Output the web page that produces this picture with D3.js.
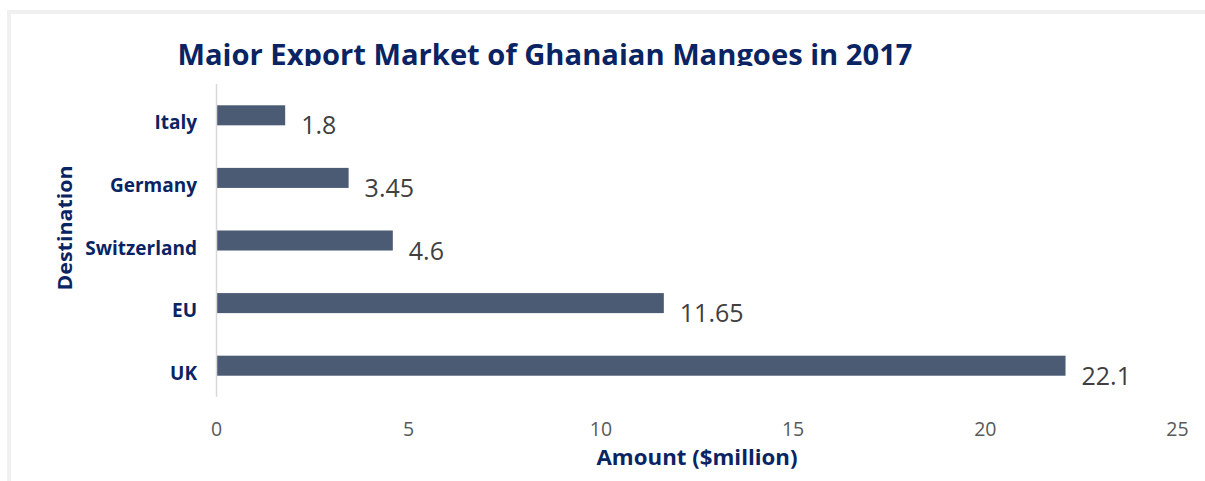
<!DOCTYPE html>
<html><head><meta charset="utf-8">
<script src="https://cdn.jsdelivr.net/npm/d3@7"></script>
<style>html,body{margin:0;padding:0;background:#fff;}svg{display:block;}</style>
</head><body>
<script>
const categories = ["Italy", "Germany", "Switzerland", "EU", "UK"];
const values = [1.8, 3.45, 4.6, 11.65, 22.1];
const valueLabels = ["1.8", "3.45", "4.6", "11.65", "22.1"];
const xTicks = [0, 5, 10, 15, 20, 25];
const titleText = "Major Export Market of Ghanaian Mangoes in 2017";
const xTitle = "Amount ($million)";
const yTitle = "Destination";

const W = 1205, H = 481;
const navy = "#0a2463", barColor = "#4b5b74";
const svg = d3.select("body").append("svg").attr("width", W).attr("height", H);

// frame
svg.append("rect").attr("x", 7).attr("y", 10).attr("width", W - 7).attr("height", 4).attr("fill", "#f0f0f0");
svg.append("rect").attr("x", 7).attr("y", 10).attr("width", 4).attr("height", H - 10).attr("fill", "#f0f0f0");

const x = d3.scaleLinear().domain([0, 25]).range([216, 1177]);
const y = d3.scaleBand().domain(categories).range([84, 397]).paddingInner(0.68).paddingOuter(0.34);

// title clipped at bottom
svg.append("clipPath").attr("id", "tclip").append("rect").attr("x", 0).attr("y", 0).attr("width", W).attr("height", 66);
svg.append("text").attr("clip-path", "url(#tclip)")
  .attr("x", 545).attr("y", 65).attr("text-anchor", "middle")
  .attr("font-family", "Open Sans").attr("font-weight", "bold").attr("font-size", 28.5)
  .attr("fill", navy).attr("textLength", 735).attr("lengthAdjust", "spacingAndGlyphs")
  .text(titleText);

// bars
svg.append("g").selectAll("rect").data(categories).join("rect")
  .attr("x", x(0)).attr("y", d => y(d)).attr("width", (d, i) => x(values[i]) - x(0))
  .attr("height", y.bandwidth()).attr("fill", barColor);

// y axis line
svg.append("line").attr("x1", 216.5).attr("x2", 216.5).attr("y1", 84).attr("y2", 397)
  .attr("stroke", "#d9d9d9").attr("stroke-width", 1.5);

// category labels
svg.append("g").selectAll("text").data(categories).join("text")
  .attr("x", 197).attr("y", d => y(d) + y.bandwidth() / 2 + 14).attr("text-anchor", "end")
  .attr("font-family", "Open Sans").attr("font-weight", "bold").attr("font-size", 19)
  .attr("fill", navy).text(d => d);

// value labels
svg.append("g").selectAll("text").data(categories).join("text")
  .attr("x", (d, i) => x(values[i]) + 16).attr("y", d => y(d) + y.bandwidth() / 2 + 19)
  .attr("font-family", "Open Sans").attr("font-size", 25).attr("fill", "#404040")
  .text((d, i) => valueLabels[i]);

// x tick labels
const xAxis = d3.axisBottom(x).tickValues(xTicks).tickSize(0).tickPadding(0);
const gx = svg.append("g").attr("transform", "translate(0,421)").call(xAxis);
gx.select(".domain").remove();
gx.selectAll("text").attr("font-family", "Open Sans").attr("font-size", 19.5).attr("fill", "#595959")
  .attr("dy", 0).attr("y", 15);

// axis titles
svg.append("text").attr("x", 697).attr("y", 465).attr("text-anchor", "middle")
  .attr("font-family", "Open Sans").attr("font-weight", "bold").attr("font-size", 21)
  .attr("fill", navy).attr("textLength", 201).attr("lengthAdjust", "spacingAndGlyphs").text(xTitle);
svg.append("text").attr("transform", "translate(72,228) rotate(-90)").attr("text-anchor", "middle")
  .attr("font-family", "Open Sans").attr("font-weight", "bold").attr("font-size", 20)
  .attr("fill", navy).attr("textLength", 125).attr("lengthAdjust", "spacingAndGlyphs").text(yTitle);
</script>
</body></html>
